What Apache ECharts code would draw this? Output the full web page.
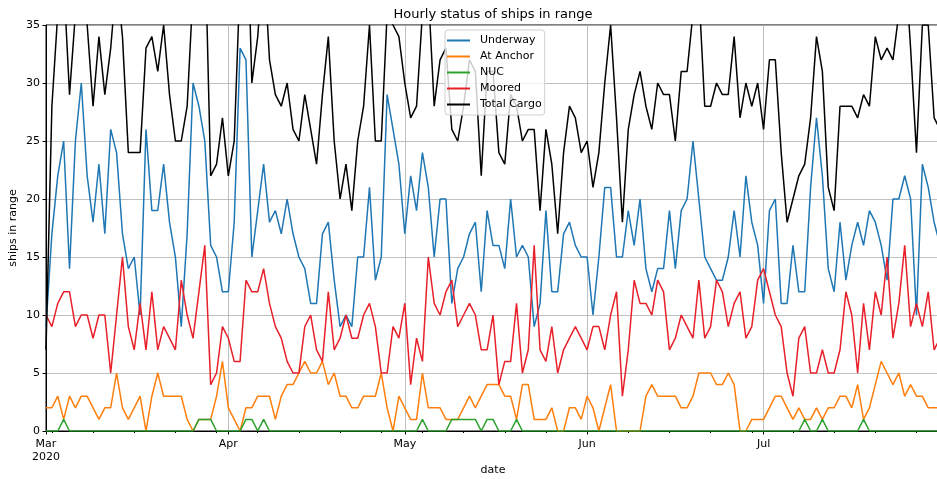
<!DOCTYPE html>
<html><head><meta charset="utf-8">
<script src="https://cdn.jsdelivr.net/npm/echarts@6/dist/echarts.min.js"></script>
<style>html,body{margin:0;padding:0;background:#fff}#c{width:937px;height:479px}</style>
</head><body><div id="c"></div>
<script>
const startDate = '2020-03-01';
const underway = [9,17,22,25,14,25,30,22,18,23, 17,26,24,17,14,15,10,26,19,19, 23,18,15,9,17,30,28,25,16,15, 12,12,18,33,32,15,19,23,18,19, 17,20,17,15,14,11,11,17,18,13, 9,10,9,15,15,21,13,15,29,26, 23,17,22,19,24,21,15,20,20,11, 14,15,17,18,12,19,16,16,14,20, 15,16,15,9,11,19,12,12,17,18, 16,15,15,10,15,21,21,15,15,19, 16,20,14,12,14,14,19,14,19,20, 25,20,15,14,13,13,15,19,15,22, 18,16,11,19,20,11,11,16,12,12, 21,27,22,14,12,18,13,16,18,16, 19,18,16,13,20,20,22,20,10,23, 21,18,16];
const atAnchor = [2,2,3,1,3,2,3,3,2,1, 2,2,5,2,1,2,3,0,3,5, 3,3,3,3,1,0,1,1,1,3, 6,2,1,0,2,2,3,3,3,1, 3,4,4,5,6,5,5,6,4,5, 3,3,2,2,3,3,3,5,2,0, 3,2,1,1,5,2,2,2,1,1, 1,2,3,2,3,4,4,4,3,3, 1,4,4,1,1,1,2,0,0,2, 2,1,3,2,0,2,4,0,0,0, 0,0,3,4,3,3,3,3,2,2, 3,5,5,5,4,4,5,4,0,0, 1,1,1,2,3,3,2,1,2,1, 1,2,1,2,2,3,3,2,4,1, 2,4,6,5,4,5,3,4,3,3, 2,2,2];
const nuc = [0,0,0,1,0,0,0,0,0,0, 0,0,0,0,0,0,0,0,0,0, 0,0,0,0,0,0,1,1,1,0, 0,0,0,0,1,1,0,1,0,0, 0,0,0,0,0,0,0,0,0,0, 0,0,0,0,0,0,0,0,0,0, 0,0,0,0,1,0,0,0,0,1, 1,1,1,1,0,1,1,0,0,0, 1,0,0,0,0,0,0,0,0,0, 0,0,0,0,0,0,0,0,0,0, 0,0,0,0,0,0,0,0,0,0, 0,0,0,0,0,0,0,0,0,0, 0,0,0,0,0,0,0,0,0,1, 0,0,1,0,0,0,0,0,0,1, 0,0,0,0,0,0,0,0,0,0, 0,0,0];
const moored = [10,9,11,12,12,9,10,10,8,10, 10,5,10,15,9,7,11,7,12,7, 9,8,7,13,10,8,12,16,4,5, 9,8,6,6,13,12,12,14,11,9, 8,6,5,5,9,10,7,6,12,7, 8,10,8,8,10,11,9,5,5,9, 8,11,4,8,6,15,11,10,12,13, 9,10,11,10,7,7,10,4,6,6, 11,5,7,16,7,6,9,5,7,8, 9,8,7,9,9,7,10,12,3,7, 13,11,11,10,13,12,7,8,10,9, 8,13,8,9,13,12,9,11,12,8, 9,13,14,12,10,9,5,3,8,9, 5,5,7,5,5,7,12,10,5,11, 7,12,10,15,8,11,16,9,11,9, 12,7,8];
const totalCargo = [7,28,36,39,29,36,43,35,28,34, 29,33,39,34,24,24,24,33,34,31, 35,29,25,25,28,38,42,43,22,23, 27,22,25,39,48,30,34,41,32,29, 28,30,26,25,29,26,23,29,34,25, 20,23,19,25,28,35,25,25,36,35, 34,30,27,28,36,38,28,32,33,26, 25,28,32,31,22,31,31,24,23,29, 28,25,26,26,19,26,23,17,24,28, 27,24,25,21,24,30,35,27,18,26, 29,31,28,26,30,29,29,25,31,31, 36,38,28,28,30,29,29,34,27,30, 28,30,26,32,32,24,18,20,22,23, 27,34,31,21,19,28,28,28,27,29, 28,34,32,33,32,36,41,33,24,35, 35,27,26];
const monthTickDates = ['2020-03-01','2020-04-01','2020-05-01','2020-06-01','2020-07-01'];
const monthTickLabels = ['Mar\n2020','Apr','May','Jun','Jul'];
const seriesNames = ['Underway','At Anchor','NUC','Moored','Total Cargo'];
const seriesColors = ['#1f77b4','#ff7f0e','#2ca02c','#e8202a','#000000'];
const seriesValues = [underway, atAnchor, nuc, moored, totalCargo];

const DAY = 86400000;
const t0 = Date.parse(startDate + 'T00:00:00Z');
const dates = underway.map((_, i) => t0 + i * DAY);
const tMax = dates[dates.length - 1];
const monthTicks = monthTickDates.map(s => Date.parse(s + 'T00:00:00Z'));
const weeklyTicks = [];
for (let t = t0; t <= tMax; t += DAY) {
  if (new Date(t).getUTCDay() === 1 && monthTicks.indexOf(t) < 0) weeklyTicks.push(t);
}
const FONT = 'DejaVu Sans';
const chart = echarts.init(document.getElementById('c'), null, {renderer: 'canvas'});
chart.setOption({
  animation: false,
  backgroundColor: '#ffffff',
  title: {
    text: 'Hourly status of ships in range',
    left: 488, top: 3, textAlign: 'center',
    textStyle: {fontFamily: FONT, fontSize: 13, fontWeight: 'normal', color: '#000'}
  },
  legend: {
    data: seriesNames, orient: 'vertical', left: 445, top: 30,
    icon: 'rect', itemWidth: 23, itemHeight: 2, itemGap: 3,
    padding: [4, 3, 4, 2],
    backgroundColor: 'rgba(255,255,255,0.8)', borderColor: '#d0d0d0', borderWidth: 1, borderRadius: 3,
    textStyle: {fontFamily: FONT, fontSize: 11, color: '#000', padding: [0, 0, 0, 5], lineHeight: 13}
  },
  grid: {left: 46, right: -3, top: 25, bottom: 48, outerBoundsMode: 'none', containLabel: false,
    show: true, borderColor: '#000', borderWidth: 1, backgroundColor: 'transparent'},
  xAxis: [{
    type: 'value', min: t0, max: tMax,
    name: 'date', nameLocation: 'middle', nameGap: 34, nameMoveOverlap: false,
    nameTextStyle: {fontFamily: FONT, fontSize: 11, color: '#000'},
    axisLine: {show: true, lineStyle: {color: '#000', width: 1}},
    axisTick: {show: true, customValues: monthTicks, length: 3.5, lineStyle: {color: '#000'}},
    axisLabel: {customValues: monthTicks, fontFamily: FONT, fontSize: 11, color: '#000', margin: 7, lineHeight: 13,
      formatter: function (v) { const i = monthTicks.indexOf(v); return i >= 0 ? monthTickLabels[i] : ''; }},
    splitLine: {show: true, lineStyle: {color: '#b0b0b0', width: 0.8}}
  }, {
    type: 'value', min: t0, max: tMax, position: 'bottom', gridIndex: 0,
    axisLine: {show: false},
    axisTick: {show: true, customValues: weeklyTicks, length: 2, lineStyle: {color: '#000'}},
    axisLabel: {show: false},
    splitLine: {show: false}
  }],
  yAxis: {
    type: 'value', min: 0, max: 35, interval: 5,
    name: 'ships in range', nameLocation: 'middle', nameGap: 27, nameRotate: 90, nameMoveOverlap: false,
    nameTextStyle: {fontFamily: FONT, fontSize: 11, color: '#000'},
    axisLine: {show: true, lineStyle: {color: '#000', width: 1}},
    axisTick: {show: true, length: 3.5, lineStyle: {color: '#000'}},
    axisLabel: {fontFamily: FONT, fontSize: 11, color: '#000', margin: 6},
    splitLine: {show: true, lineStyle: {color: '#b0b0b0', width: 0.8}}
  },
  series: seriesNames.map((name, k) => ({
    name: name, type: 'line', xAxisIndex: 0,
    data: dates.map((t, i) => [t, seriesValues[k][i]]),
    symbol: 'none', showSymbol: false, clip: true,
    color: seriesColors[k],
    lineStyle: {color: seriesColors[k], width: 1.5}
  }))
});
</script>
</body></html>
